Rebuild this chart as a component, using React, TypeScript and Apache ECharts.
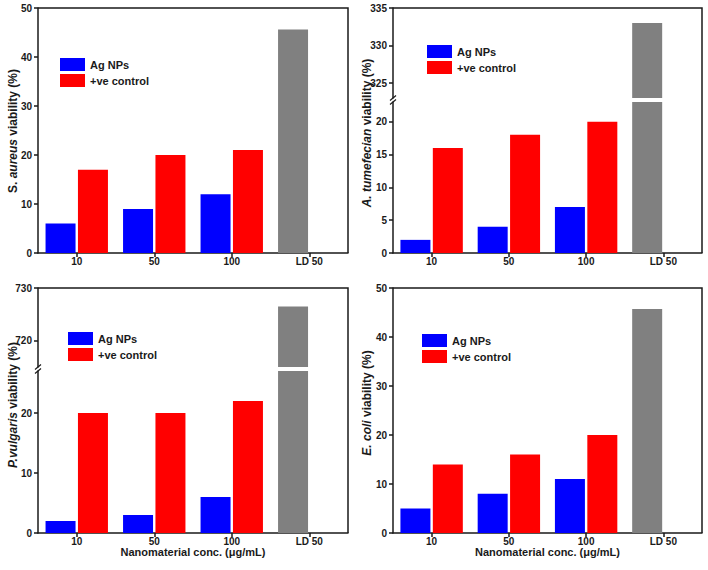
import React, { useEffect, useRef } from 'react';
import * as echarts from 'echarts';

// ---------------- data ----------------
const categories = ['10', '50', '100', 'LD 50'];

const sAureusAgNPs = [6, 9, 12];
const sAureusControl = [17, 20, 21];
const sAureusLD50 = 45.6;

const aTumefecianAgNPs = [2, 4, 7];
const aTumefecianControl = [16, 18, 20];
const aTumefecianLD50 = 333;

const pVulgarisAgNPs = [2, 3, 6];
const pVulgarisControl = [20, 20, 22];
const pVulgarisLD50 = 726.5;

const eColiAgNPs = [5, 8, 11];
const eColiControl = [14, 16, 20];
const eColiLD50 = 45.7;

const ticks0to50 = [0, 10, 20, 30, 40, 50];
const aTumLowerTicks = [0, 5, 10, 15, 20];
const aTumUpperTicks = [325, 330, 335];
const pVulLowerTicks = [0, 10, 20];
const pVulUpperTicks = [720, 730];

const legendNames = ['Ag NPs', '+ve control'];
const xAxisTitle = 'Nanomaterial conc. (μg/mL)';

// ---------------- styles ----------------
const FONT = 'Arial, "Liberation Sans", Helvetica, sans-serif';
const BLUE = '#0000ff';
const RED = '#ff0000';
const GRAY = '#808080';
const INK = '#1a1a1a';
const LINE_W = 1.5;

type Seg = { top: number; height: number; min: number; max: number; ticks: number[] };
type Panel = {
  left: number;
  width: number;
  segs: Seg[]; // bottom segment first
  title: string;
  titleX: number;
  titleY: number;
  legendLeft: number;
  legendTop: number;
  xName: boolean;
  ag: number[];
  ctrl: number[];
  ld: number;
};

const panels: Panel[] = [
  {
    left: 38, width: 310,
    segs: [{ top: 8, height: 245, min: 0, max: 50, ticks: ticks0to50 }],
    title: '{n|S. }{i|aureus}{n| viability (%)}',
    titleX: 13, titleY: 131,
    legendLeft: 60, legendTop: 58, xName: false,
    ag: sAureusAgNPs, ctrl: sAureusControl, ld: sAureusLD50,
  },
  {
    left: 393, width: 309,
    segs: [
      { top: 102, height: 151, min: 0, max: 23, ticks: aTumLowerTicks },
      { top: 8, height: 90, min: 323, max: 335, ticks: aTumUpperTicks },
    ],
    title: '{i|A. tumefecian}{n| viability (%)}',
    titleX: 367, titleY: 133,
    legendLeft: 427, legendTop: 45, xName: false,
    ag: aTumefecianAgNPs, ctrl: aTumefecianControl, ld: aTumefecianLD50,
  },
  {
    left: 38, width: 310,
    segs: [
      { top: 371, height: 162, min: 0, max: 27, ticks: pVulLowerTicks },
      { top: 288, height: 79, min: 715, max: 730, ticks: pVulUpperTicks },
    ],
    title: '{i|P.vulgaris}{n| viability (%)}',
    titleX: 13, titleY: 405,
    legendLeft: 68, legendTop: 332, xName: true,
    ag: pVulgarisAgNPs, ctrl: pVulgarisControl, ld: pVulgarisLD50,
  },
  {
    left: 393, width: 309,
    segs: [{ top: 288, height: 245, min: 0, max: 50, ticks: ticks0to50 }],
    title: '{i|E. coli}{n| viability (%)}',
    titleX: 367, titleY: 403,
    legendLeft: 422, legendTop: 334, xName: true,
    ag: eColiAgNPs, ctrl: eColiControl, ld: eColiLD50,
  },
];

function buildOption() {
  const grid: any[] = [];
  const xAxis: any[] = [];
  const yAxis: any[] = [];
  const series: any[] = [];
  const legend: any[] = [];
  const graphic: any[] = [];

  panels.forEach((p) => {
    const right = p.left + p.width;
    const topMost = p.segs[p.segs.length - 1].top;
    const bottomSeg = p.segs[0];
    const bottomY = bottomSeg.top + bottomSeg.height;

    p.segs.forEach((s, si) => {
      const idx = grid.length;
      const isBottom = si === 0;
      grid.push({
        left: p.left, top: s.top, width: p.width, height: s.height,
        containLabel: false, outerBoundsMode: 'none', show: false,
      });
      xAxis.push({
        type: 'category', gridIndex: idx, data: categories,
        show: isBottom,
        boundaryGap: true,
        axisLine: { show: true, lineStyle: { color: INK, width: LINE_W } },
        axisTick: { show: true, alignWithLabel: true, length: 4, lineStyle: { color: INK, width: LINE_W } },
        axisLabel: { margin: 3, fontSize: 10, fontWeight: 'bold', color: INK, fontFamily: FONT },
        splitLine: { show: false },
        name: isBottom && p.xName ? xAxisTitle : '',
        nameLocation: 'middle', nameGap: 13,
        nameTextStyle: { fontSize: 11, fontWeight: 'bold', color: INK, fontFamily: FONT },
      });
      yAxis.push({
        type: 'value', gridIndex: idx, min: s.min, max: s.max,
        axisLine: { show: true, onZero: false, lineStyle: { color: INK, width: LINE_W } },
        axisTick: { show: true, length: 4, customValues: s.ticks, lineStyle: { color: INK, width: LINE_W } },
        axisLabel: { margin: 6, customValues: s.ticks, fontSize: 10, fontWeight: 'bold', color: INK, fontFamily: FONT },
        splitLine: { show: false },
      });
      series.push({
        type: 'bar', name: legendNames[0], xAxisIndex: idx, yAxisIndex: idx,
        barWidth: 30, barGap: '8%', clip: true, silent: true,
        itemStyle: { color: BLUE },
        data: [...p.ag, { value: p.ld, itemStyle: { color: GRAY } }],
      });
      series.push({
        type: 'bar', name: legendNames[1], xAxisIndex: idx, yAxisIndex: idx,
        barWidth: 30, barGap: '8%', clip: true, silent: true,
        itemStyle: { color: RED },
        data: [...p.ctrl, '-'],
      });
    });

    // top + right frame
    graphic.push({
      type: 'polyline', silent: true, z: 10,
      shape: { points: [[p.left, topMost], [right, topMost], [right, bottomY]] },
      style: { stroke: INK, lineWidth: LINE_W, fill: null },
    });

    // axis break marks
    if (p.segs.length > 1) {
      const upper = p.segs[1];
      const yA = upper.top + upper.height;
      const yB = bottomSeg.top;
      [yA, yB].forEach((yc) => {
        graphic.push({
          type: 'line', silent: true, z: 10,
          shape: { x1: p.left - 3, y1: yc + 2.5, x2: p.left + 3, y2: yc - 2.5 },
          style: { stroke: INK, lineWidth: 1.2 },
        });
      });
    }

    // y-axis title
    graphic.push({
      type: 'text', silent: true, z: 10,
      x: p.titleX, y: p.titleY, rotation: Math.PI / 2,
      style: {
        text: p.title,
        align: 'center', verticalAlign: 'middle',
        fill: INK,
        font: `bold 12px ${FONT}`,
        rich: {
          n: { fontSize: 12, fontWeight: 'bold', fontFamily: FONT, fill: INK },
          i: { fontSize: 12, fontWeight: 'bold', fontStyle: 'italic', fontFamily: FONT, fill: INK },
        },
      },
    });

    legend.push({
      orient: 'vertical', left: p.legendLeft, top: p.legendTop, padding: 0,
      itemGap: 3, itemWidth: 25, itemHeight: 13, icon: 'rect',
      selectedMode: false, data: legendNames,
      textStyle: { fontSize: 11, fontWeight: 'bold', color: INK, fontFamily: FONT },
    });
  });

  return {
    animation: false,
    backgroundColor: '#ffffff',
    grid, xAxis, yAxis, series, legend, graphic,
  };
}

export default function App() {
  const ref = useRef<HTMLDivElement>(null);
  useEffect(() => {
    if (!ref.current) return;
    const chart = echarts.init(ref.current, undefined, { renderer: 'svg' });
    chart.setOption(buildOption() as any);
    return () => chart.dispose();
  }, []);
  return (
    <div
      ref={ref}
      style={{ position: 'absolute', left: 0, top: 0, width: 708, height: 570, background: '#fff' }}
    />
  );
}
